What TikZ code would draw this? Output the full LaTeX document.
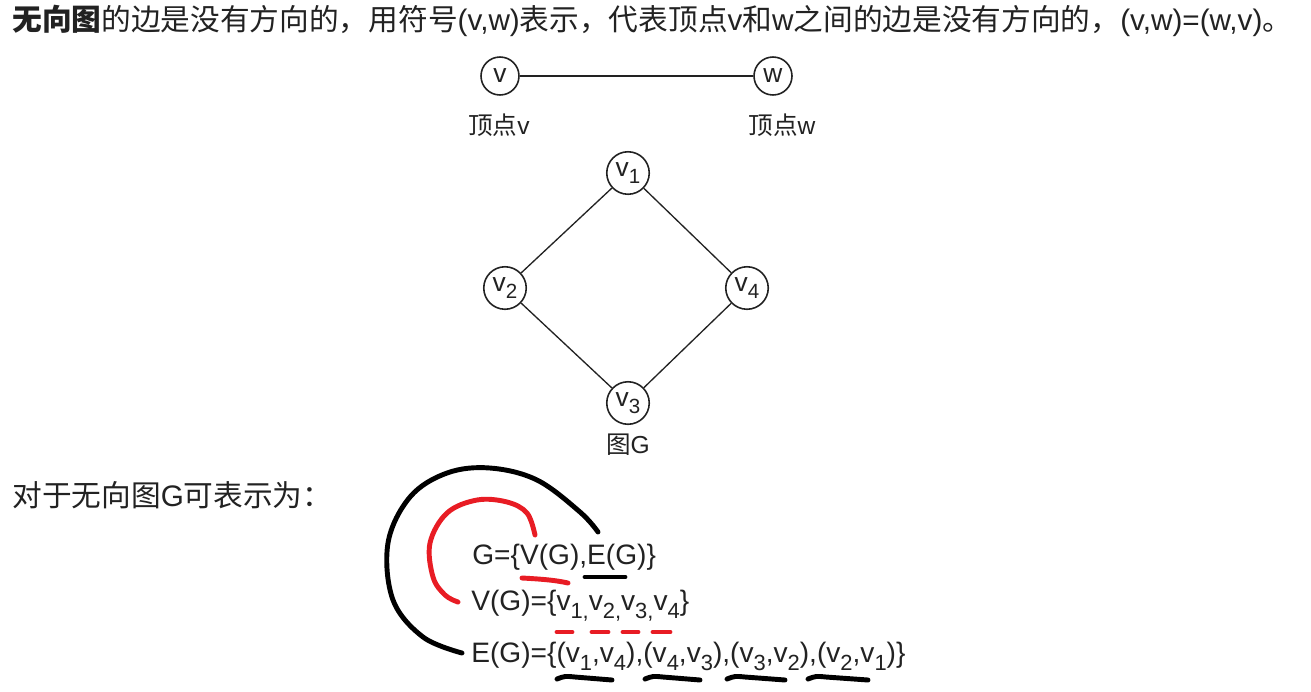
\documentclass[tikz,border=0pt]{standalone}
\usepackage{fontspec}
\setmainfont{Liberation Sans}
\newfontfamily\cjk{Noto Sans CJK SC}
\usetikzlibrary{positioning}
\newcommand{\zh}[1]{{\cjk #1}}
\newcommand{\vs}[1]{v\raisebox{-0.55ex}{\fontsize{0.78em}{1em}\selectfont #1}}
\definecolor{MarkRed}{RGB}{232, 28, 36}
\definecolor{InkGray}{RGB}{34, 34, 34}

\begin{document}
\begin{tikzpicture}[x=0.02cm, y=-0.02cm, text=InkGray,
    vertex/.style={circle, draw=InkGray, line width=0.9pt, inner sep=0pt, minimum size=0.76cm, font=\fontsize{15}{18}\selectfont},
    gvertex/.style={vertex, minimum size=0.85cm},
    caption/.style={font=\fontsize{14}{17}\selectfont},
    txt/.style={anchor=west, inner sep=0pt, font=\fontsize{16}{19}\selectfont},
    zhtxt/.style={txt, font=\fontsize{16.9}{20}\selectfont},
    link/.style={draw=InkGray, line width=0.75pt},
    pen/.style={line width=2.8pt, line cap=round, line join=round},
    redpen/.style={pen, draw=MarkRed}
  ]
  \fill[white] (0,0) rectangle (1311,691);
  \useasboundingbox (0,0) rectangle (1311,691);

  % heading
  \node[zhtxt] (head) at (12,21) {\zh{\bfseries 无向图}\zh{的边是没有方向的，用符号}(v,w)\zh{表示，代表顶点}v\zh{和}w\zh{之间的边是没有方向的，}(v,w)=(w,v)\zh{。}};

  % edge (v,w)
  \node[vertex] (v) at (500,76) {v};
  \node[vertex] (w) at (773,76) {w};
  \draw[link] (v) -- (w);
  \node[caption] (lv) at (499,125) {\zh{顶点}v};
  \node[caption] (lw) at (782,125) {\zh{顶点}w};

  % graph G
  \node[gvertex] (v1) at (628,173) {\vs{1}};
  \node[gvertex] (v2) at (505,288) {\vs{2}};
  \node[gvertex] (v4) at (747,288) {\vs{4}};
  \node[gvertex] (v3) at (628,403) {\vs{3}};
  \draw[link] (v1) -- (v2) -- (v3) -- (v4) -- (v1);
  \node[caption] (gG) at (628,445) {\zh{图}G};

  % sets
  \node[zhtxt] (intro) at (12,495) {\zh{对于无向图}G\zh{可表示为：}};
  \node[txt] (eqG) at (472,557) {G=\{V(G),E(G)\}};
  \node[txt] (eqV) at (471,606) {V(G)=\{\vs{1,}\vs{2,}\vs{3,}\vs{4}\}};
  \node[txt] (eqE) at (471,656) {E(G)=\{(\vs{1},\vs{4}),(\vs{4},\vs{3}),(\vs{3},\vs{2}),(\vs{2},\vs{1})\}};

  % hand marks
  \draw[pen] plot[smooth, tension=0.6] coordinates {(598,532) (580,512) (537,480) (490,468) (447,473) (410,497) (388,543) (393,600) (423,637) (462,653)};
  \draw[redpen] plot[smooth, tension=0.6] coordinates {(535,535) (527,513) (507,502) (477,500) (447,513) (430,543) (433,577) (445,595) (458,602)};
  \draw[redpen] (522,578) .. controls (540,579) and (555,580) .. (568,583);
  \draw[pen] (585,577) -- (625,577);
  \foreach \a/\b in {557/572, 592/608, 623/638, 653/670}
    \draw[redpen] (\a,632) -- (\b,632);
  \foreach \a/\b in {557/612, 645/700, 727/785, 808/868}
    \draw[pen] (\a,679) .. controls (\a+8,676) .. (\a+18,677) -- (\b,680);
\end{tikzpicture}
\end{document}
